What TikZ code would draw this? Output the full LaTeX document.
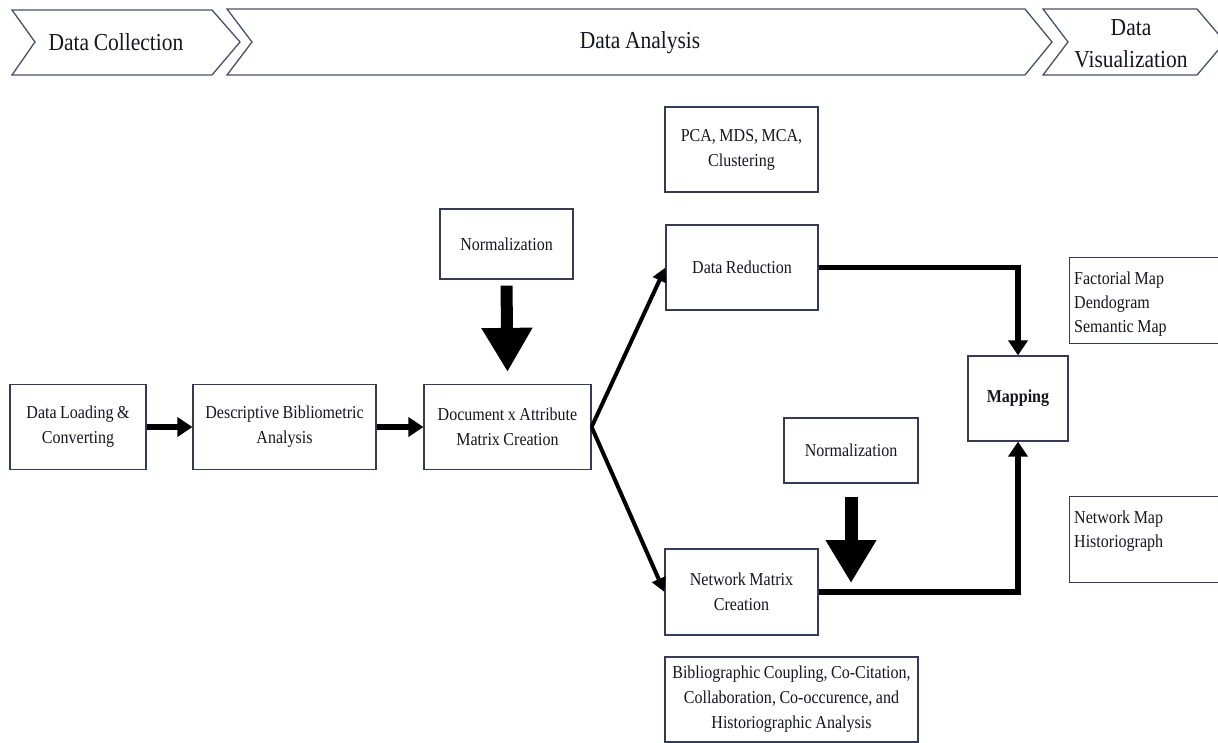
\documentclass[tikz,border=0pt]{standalone}
\usepackage{fontspec}
\setmainfont[FakeStretch=0.88,WordSpace=0.88]{Liberation Serif}
\usetikzlibrary{arrows.meta}
\definecolor{boxc}{HTML}{353B55}
\definecolor{chevc}{HTML}{4A5068}
\definecolor{txt}{HTML}{16161F}
\begin{document}
\begin{tikzpicture}[x=1pt,y=-1pt,
 box/.style={draw=boxc,line width=1.2pt,fill=white,align=center,inner sep=0pt,text=txt,font=\fontsize{18.2}{25}\selectfont},
 sidetext/.style={anchor=north west,align=left,inner sep=0pt,text=txt,font=\fontsize{18.2}{24}\selectfont},
 chev/.style={draw=chevc,line width=1.3pt,fill=white,line join=miter},
 head/.style={text=txt,font=\fontsize{24.4}{32}\selectfont,align=center,inner sep=0pt},
 conn/.style={line width=5.5pt,-{Triangle[length=15pt,width=19pt]}},
 diag/.style={line width=4pt,-{Triangle[length=14pt,width=14pt]}},
 big/.style={line width=12pt,-{Triangle[length=44pt,width=48pt]}},
]
\useasboundingbox[fill=white] (0,0) rectangle (1218,743);
% header chevrons
\draw[chev] (12,10) -- (212,10) -- (240,42) -- (212,75) -- (12,75) -- (35,42) -- cycle;
\draw[chev] (227,9) -- (1025,9) -- (1052,42) -- (1025,75) -- (227,75) -- (252,42) -- cycle;
\draw[chev] (1043,9) -- (1197,9) -- (1225,42) -- (1197,75) -- (1043,75) -- (1068,42) -- cycle;
\node[head] (hc) at (116,42) {Data Collection};
\node[head] (ha) at (640,43) {Data Analysis};
\node[head] (hv) at (1131,44) {Data\\Visualization};
% boxes
\node[box,minimum width=153pt,minimum height=85pt] (pca) at (741.5,149.5) {PCA, MDS, MCA,\\Clustering};
\node[box,minimum width=133pt,minimum height=70pt] (norm1) at (506.5,244) {Normalization};
\node[box,minimum width=152pt,minimum height=85pt] (dr) at (742,267.5) {Data Reduction};
\node[box,minimum width=136pt,minimum height=85pt] (load) at (78,427) {Data Loading \&\\Converting};
\node[box,minimum width=183pt,minimum height=85pt] (desc) at (284.5,427) {Descriptive Bibliometric\\Analysis};
\node[box,minimum width=167pt,minimum height=85pt] (doc) at (507.5,427) {Document x Attribute\\Matrix Creation};
\node[box,minimum width=134pt,minimum height=65pt] (norm2) at (851,450.5) {Normalization};
\node[box,minimum width=153pt,minimum height=86pt] (nm) at (741.5,592) {Network Matrix\\Creation};
\node[box,minimum width=100pt,minimum height=85pt,font=\fontsize{18.2}{25}\selectfont\bfseries] (map) at (1018,398.5) {Mapping};
\node[box,anchor=north west,minimum width=160pt,minimum height=86pt] (factbox) at (1069,257) {};
\node[sidetext] (facttext) at (1074,272) {Factorial Map\\Dendogram\\Semantic Map};
\node[box,anchor=north west,minimum width=160pt,minimum height=86pt] (netbox) at (1069,496) {};
\node[sidetext] (nettext) at (1074,511) {Network Map\\Historiograph};
\node[box,minimum width=253pt,minimum height=85pt] (bib) at (791.5,699.5) {Bibliographic Coupling, Co-Citation,\\Collaboration, Co-occurence, and\\Historiographic Analysis};
% connectors
\draw[conn] (load) -- (desc);
\draw[conn] (desc) -- (doc);
\draw[diag] (doc.east) -- (dr.west);
\draw[diag] (doc.east) -- (nm.west);
\draw[conn] (dr.east) -| (map.north);
\draw[conn] (nm.east) -| (map.south);
\draw[big] ([yshift=-6pt]norm1.south) -- ([yshift=12pt]doc.north);
\coordinate (n2tip) at (851,583);
\draw[big,line width=13pt,-{Triangle[length=43pt,width=48pt]}] ([yshift=-13pt]norm2.south) -- (n2tip);
\end{tikzpicture}
\end{document}
